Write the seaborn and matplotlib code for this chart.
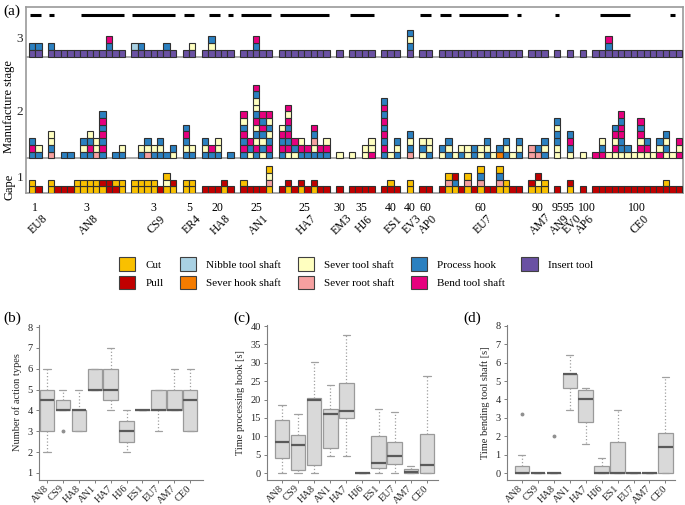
import pandas as pd
import seaborn as sns
import matplotlib.pyplot as plt
from matplotlib.patches import Patch

# ---------------- panel (a) data ----------------
groups = ["EU8", "AN8", "CS9", "ER4", "HA8", "AN1", "HA7", "EM3", "HJ6",
          "ES1", "EV3", "AP0", "EU7", "AM7", "AN9", "EV0", "AP6", "CE0"]
gape = ["1", "3", "3", "5", "20", "25", "25", "30", "35",
        "40", "40", "60", "60", "90", "95", "95", "100", "100"]

# one token per column, actions stacked bottom -> top, "-" = empty
stage1 = ["CC P",
          "CC P P P CC CC CC CC CP PP PC CC",
          "CC CC CC CC P CSC CP",
          "CC CC",
          "P P P CP P",
          "PC P P P CRSC",
          "P CP P CP P CP P P",
          "P",
          "P P P P",
          "P PC P",
          "CC",
          "P P",
          "P CRC CHP P CRC P CRHC P P CRHC CC P P",
          "CP CSP CC",
          "P",
          "CP",
          "P",
          "P P P P P P P P P P P PC P P"]
stage2 = ["HBH HS",
          "RHSS - H H - HSH HBHS RSS HBHBHBH - H HS",
          "- HS RSH HS HSH H SH",
          "HSHBH HS",
          "HSH HB HSS - H",
          "HBHBHSB SHB HBSHSBHSSHB SHSHBHB HBHSHSB",
          "HBHBS SBHBHBSB SHB HBS HB HSRHB HB HBS",
          "S",
          "S - SS BSS",
          "HBHBHBHBH S HSH",
          "RHSH",
          "SHS HSS",
          "SH HSH S HS SS HH SS HSH S OH HSH S HSH",
          "RR RH HSH",
          "SSHHSH",
          "SHBH",
          "S",
          "B BHS S SBSBH SHHBBHB SH S SBSBHB SBH S BSH SHSH S BSB"]
stage3 = ["IH IH",
          "IH I I I I I I I I IHB I I",
          "IN IH I I I IH I",
          "I IS",
          "I ISH I I I",
          "I I IHB I I",
          "I I I I I I I I",
          "I",
          "I I I I",
          "I I I",
          "IHSH",
          "I I",
          "I I I I I I I I I I I I I",
          "I I I",
          "I",
          "I",
          "I",
          "I I IHB I I I I I I I I I I I"]
top_marks = ["11", "100001111111", "1111111", "11", "01101", "11111",
             "11111111", "0", "1111", "000", "0", "11", "1101111111101",
             "000", "1", "0", "0", "01111100000010"]

action_codes = ["C", "P", "N", "O", "S", "R", "H", "B", "I"]
action_names = ["Cut", "Pull", "Nibble tool shaft", "Sever hook shaft",
                "Sever tool shaft", "Sever root shaft", "Process hook",
                "Bend tool shaft", "Insert tool"]
action_colors = ["#F9C000", "#C00000", "#A9D1E3", "#F57C00", "#FFFFC0",
                 "#F5A0A0", "#2B80C0", "#E6007E", "#6A51A3"]

# ---------------- panels (b)-(d) data ----------------
box_tools = ["AN8", "CS9", "HA8", "AN1", "HA7", "HJ6", "ES1", "EU7", "AM7", "CE0"]

act_lo = [2, 4, 3, 5, 4, 2, 4, 3, 4, 3]
act_q1 = [3, 4, 3, 5, 4.5, 2.5, 4, 4, 4, 3]
act_med = [4.5, 4, 4, 5, 5, 3, 4, 4, 4, 4.5]
act_q3 = [5, 4.5, 4, 6, 6, 3.5, 4, 5, 5, 5]
act_hi = [6, 5, 5, 6, 7, 4, 4, 5, 6, 6]
act_out = [[], [3], [], [], [], [], [], [], [], []]

hook_lo = [0, 0, 0, 4.6, 4.6, 0, 0, 0, 0, 0]
hook_q1 = [4.0, 0.8, 2.1, 6.9, 15.0, 0, 1.4, 2.5, 0.1, 0]
hook_med = [8.4, 7.7, 19.8, 16.1, 17.0, 0, 2.7, 4.7, 0.3, 2.3]
hook_q3 = [14.5, 10.4, 20.3, 17.5, 24.4, 0, 10.2, 8.5, 1.0, 10.7]
hook_hi = [18.5, 16.2, 30.3, 24.1, 37.6, 0, 17.5, 16.6, 1.9, 26.3]
hook_out = [[], [], [], [], [], [], [], [], [], []]

bend_lo = [0, 0, 0, 3.4, 1.6, 0, 0, 0, 0, 0]
bend_q1 = [0, 0, 0, 4.6, 2.8, 0, 0, 0, 0, 0]
bend_med = [0, 0, 0, 5.4, 4.0, 0, 0, 0, 0, 1.4]
bend_q3 = [0.4, 0, 0, 5.4, 4.5, 0.4, 1.7, 0, 0, 2.2]
bend_hi = [1.0, 0, 0, 6.4, 4.6, 0.8, 3.4, 0, 0, 5.2]
bend_out = [[3.2], [], [2.0], [], [], [], [], [], [], []]

sns.set_style("ticks")
plt.rcParams["font.family"] = ["Liberation Serif", "DejaVu Serif"]
plt.rcParams["text.color"] = "black"

W, H = 685, 505
fig = plt.figure(figsize=(W / 100, H / 100), dpi=100)


def px_axes(left, top, right, bottom):
    return fig.add_axes([left / W, 1 - bottom / H, (right - left) / W, (bottom - top) / H])


# ---------------- panel (a) ----------------
ax = px_axes(26, 7, 683, 193)
base = [0, 5.2, 20.4]
col_of = dict(zip(action_codes, action_colors))
xs = {c: [] for c in action_codes}
ys = {c: [] for c in action_codes}
centers, runs = [], []
slot = 0
for g in range(len(groups)):
    cols = [stage1[g].split(), stage2[g].split(), stage3[g].split()]
    n = len(cols[0])
    centers.append(slot + n / 2)
    for i in range(n):
        for k in range(3):
            tok = cols[k][i]
            if tok == "-":
                continue
            for j, c in enumerate(tok):
                xs[c].append(slot + i + 0.5)
                ys[c].append(base[k] + j)
        if top_marks[g][i] == "1":
            s = slot + i
            if runs and runs[-1][1] == s:
                runs[-1][1] = s + 1
            else:
                runs.append([s, s + 1])
    slot += n + 1

for c in action_codes:
    if xs[c]:
        ax.bar(xs[c], 1, bottom=ys[c], width=1, color=col_of[c],
               edgecolor="#303030", linewidth=0.8, zorder=3)

ax.hlines([26.6] * len(runs), [r[0] + 0.15 for r in runs], [r[1] - 0.15 for r in runs],
          colors="black", linewidth=2.2, zorder=3)
for yb in base[1:]:
    ax.axhline(yb, color="#9a9a9a", linewidth=1.2, zorder=2)

ax.set_xlim(-0.45, slot - 1 + 0.15)
ax.set_ylim(0, 27.8)
ax.set_xticks([])
ax.set_yticks([2.4, 12.4, 23.3])
ax.set_yticklabels(["1", "2", "3"], fontsize=9.5)
ax.tick_params(axis="y", length=0, pad=2)
for sp in ax.spines.values():
    sp.set_color("#9a9a9a")
    sp.set_linewidth(1.2)

# small horizontal nudge (in columns) so crowded gape numbers stay apart
gape_nudge = {"EV0": -0.15, "AP6": 0.6}
for g in range(len(groups)):
    ax.text(centers[g] + gape_nudge.get(groups[g], 0), -2.2, gape[g], ha="center",
            va="center", fontsize=8.5, clip_on=False)
    ax.text(centers[g] + 0.4, -4.7, groups[g], ha="center", va="center", rotation=45,
            fontsize=8.5, clip_on=False)

fig.text(3 / W, 1 - 11 / H, "(a)", fontsize=11, ha="left", va="center")
fig.text(9 / W, 1 - 107 / H, "Manufacture stage", rotation=90, fontsize=9,
         ha="center", va="center")
fig.text(9 / W, 1 - 187 / H, "Gape", rotation=90, fontsize=9, ha="center", va="center")

handles = [Patch(facecolor=col, edgecolor="#404040", linewidth=0.8) for col in action_colors]
fig.legend(handles, action_names, loc="center", bbox_to_anchor=(356 / W, 1 - 273 / H),
           ncol=5, frameon=False, fontsize=8, handlelength=1.45, handleheight=1.45,
           handletextpad=0.9, columnspacing=1.5, labelspacing=0.45)


# ---------------- panels (b)-(d) ----------------
def box_table(lo, q1, med, q3, hi, outl):
    rows = []
    for t, a, b, c, d, e, o in zip(box_tools, lo, q1, med, q3, hi, outl):
        vals = [a, a, b, b, c, d, d, e, e]
        for v in o:
            if v < a:
                vals[0] = v
            else:
                vals[-1] = v
        rows += [(t, v) for v in vals]
    return pd.DataFrame(rows, columns=["tool", "value"])


panels = [
    ("(b)", (39, 325, 203, 480), box_table(act_lo, act_q1, act_med, act_q3, act_hi, act_out),
     "Number of action types", (-0.5, 9.8), (0.66, 8.1), range(1, 9), 3),
    ("(c)", (267, 325, 438, 480), box_table(hook_lo, hook_q1, hook_med, hook_q3, hook_hi, hook_out),
     "Time processing hook [s]", (-0.93, 9.69), (-1.9, 40.3), range(0, 41, 5), 233),
    ("(d)", (507, 325, 675, 480), box_table(bend_lo, bend_q1, bend_med, bend_q3, bend_hi, bend_out),
     "Time bending tool shaft [s]", (-0.93, 9.6), (-0.38, 8.05), range(0, 9), 463),
]

for tag, box, df, ylab, xl, yl, yt, tx in panels:
    axp = px_axes(*box)
    sns.boxplot(data=df, x="tool", y="value", ax=axp, order=box_tools, width=0.9,
                color="#D9D9D9", saturation=1, linecolor="#9a9a9a", linewidth=0.9,
                medianprops=dict(color="#5a5a5a", linewidth=1.6),
                whiskerprops=dict(color="#a0a0a0", linestyle=":", linewidth=0.9),
                capprops=dict(color="#a0a0a0", linewidth=0.9),
                flierprops=dict(marker="o", markersize=1.8, markerfacecolor="#909090",
                                markeredgecolor="#909090"),
                capwidths=0.45)
    axp.set_xlim(*xl)
    axp.set_ylim(*yl)
    axp.set_yticks(list(yt))
    axp.set_yticklabels([str(v) for v in yt], fontsize=7.5)
    axp.set_xticks(range(len(box_tools)))
    axp.set_xticklabels(box_tools, rotation=45, ha="right", va="center",
                        rotation_mode="anchor", fontsize=7.5)
    axp.set_xlabel("")
    axp.set_ylabel(ylab, fontsize=7.5)
    axp.tick_params(length=2.5, width=0.7, color="#7f7f7f", pad=2)
    axp.tick_params(axis="x", pad=2.5)
    for s in ["left", "bottom"]:
        axp.spines[s].set_color("#7f7f7f")
        axp.spines[s].set_linewidth(0.8)
    sns.despine(ax=axp)
    fig.text(tx / W, 1 - 318 / H, tag, fontsize=11, ha="left", va="center")

fig.savefig("out.png", dpi=100)
